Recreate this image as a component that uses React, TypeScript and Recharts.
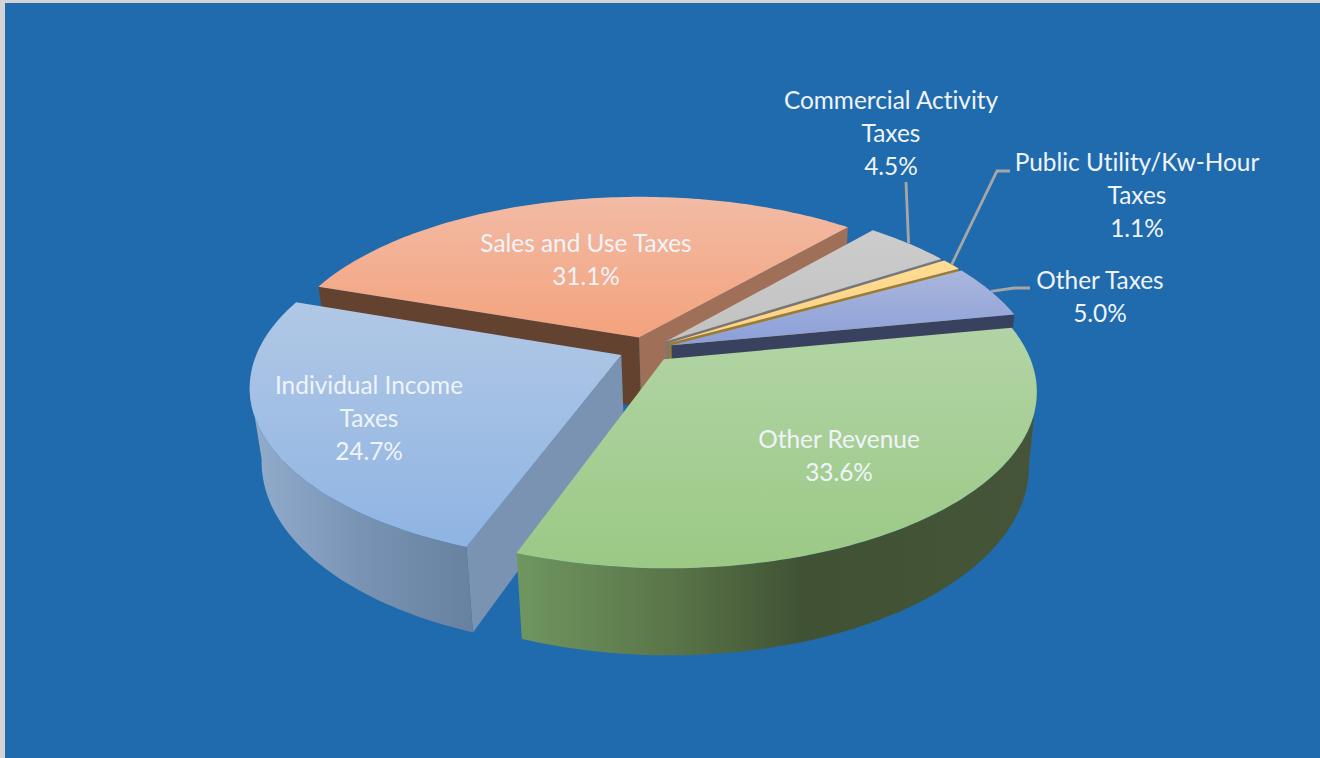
import React from 'react';
import { PieChart, Pie } from 'recharts';

const categories = ['Sales and Use Taxes', 'Commercial Activity Taxes', 'Public Utility/Kw-Hour Taxes', 'Other Taxes', 'Other Revenue', 'Individual Income Taxes'];
const shares = [31.1, 4.5, 1.1, 5.0, 33.6, 24.7];
const labelLines = [
  ['Sales and Use Taxes'],
  ['Commercial Activity', 'Taxes'],
  ['Public Utility/Kw-Hour', 'Taxes'],
  ['Other Taxes'],
  ['Other Revenue'],
  ['Individual Income', 'Taxes'],
];
const data = categories.map((name, i) => ({ name, value: shares[i], lines: labelLines[i], idx: i }));

// styles
const topColors = [
  ['#f2bba5', '#f4a27c'], ['#cccccc', '#c2c2c2'], ['#ffdb94', '#ffd37f'],
  ['#aab6dc', '#8b9fd8'], ['#b2d4a5', '#9bc985'], ['#b1c8e5', '#8fb4e3'],
];
const startWall = ['#63432f', '#777777', '#9c7c30', '#38425e', '#6b8f5c', '#7a93b3'];
const endWall = ['#a06f57', '#777777', '#9c7c30', '#38425e', '#6b8f5c', '#7590b0'];
const rimGradient: any[] = [null, null, null, null,
  [['0%', '#6f9660'], ['30%', '#5a7549'], ['55%', '#405233'], ['100%', '#465539']],
  [['0%', '#92adcc'], ['50%', '#7893b4'], ['100%', '#67819f']],
];
const labelCenter = [[586, 244], [891, 101], [1137, 163], [1100, 281], [839, 440], [369, 386]];
const leaderBend: any[] = [null, [[906, 182]], [[997, 171], [1010, 171]], [[1014, 288], [1030, 288]], null, null];

const CX = 646, CY = 349.5, RADIUS = 363;
const K = 0.174, TILT = 0.4653, DEPTH = 0.1956, SHRINK = 0.025, SHIFT = 2, EXPLODE = 0.075;
const rad = (d: number) => (d * Math.PI) / 180;

function projector(cx: number, cy: number, r: number, mid: number) {
  const ox = EXPLODE * Math.cos(rad(mid));
  const oy = -EXPLODE * Math.sin(rad(mid));
  return (unit: number, deg: number, z: number) => {
    const X = unit * Math.cos(rad(deg)) + ox;
    const Y = -unit * Math.sin(rad(deg)) + oy;
    const d = 1 - K * Y;
    return [cx + z * SHIFT + (r * X * (1 - SHRINK * z)) / d, cy + (r * TILT * Y) / d + (z * r * DEPTH) / d];
  };
}
const toPath = (pts: number[][]) => 'M' + pts.map((p) => p[0].toFixed(2) + ' ' + p[1].toFixed(2)).join('L') + 'Z';

function SliceShape(props: any) {
  const { cx, cy, outerRadius, startAngle, endAngle, midAngle, payload } = props;
  const idx = payload?.idx ?? props.idx;
  const hi = Math.max(startAngle, endAngle), lo = Math.min(startAngle, endAngle);
  const mid = midAngle ?? (hi + lo) / 2;
  const P = projector(cx, cy, outerRadius, mid);
  const apex = P(0, 0, 0), apexB = P(0, 0, 1);
  const arc: number[][] = [];
  const steps = Math.max(4, Math.ceil(hi - lo));
  for (let i = 0; i <= steps; i++) arc.push(P(1, hi - ((hi - lo) * i) / steps, 0));
  const M = P(0.7, mid, 0);

  const wallVisible = (deg: number) => {
    const R = P(1, deg, 0);
    const dx = R[0] - apex[0], dy = R[1] - apex[1];
    return M[1] - apex[1] < (dy / dx) * (M[0] - apex[0]);
  };
  const wall = (deg: number) => toPath([apex, P(1, deg, 0), P(1, deg, 1), apexB]);

  // the outer wall faces the viewer only between the two silhouette angles
  const s = -(Math.asin(K) * 180) / Math.PI;
  const vis = [-180 - s, s];
  let rimPath = '';
  for (const shift of [0, -360]) {
    const a0 = Math.max(lo + shift, vis[0]);
    const a1 = Math.min(hi + shift, vis[1]);
    if (a1 > a0) {
      const top: number[][] = [], bot: number[][] = [];
      for (let d = a1; d >= a0; d -= 1) {
        top.push(P(1, d, 0));
        bot.unshift(P(1, d, 1));
      }
      top.push(P(1, a0, 0));
      bot.unshift(P(1, a0, 1));
      rimPath = toPath([...top, ...bot]);
      break;
    }
  }
  const rimStops = rimGradient[idx];
  return (
    <g>
      <defs>
        <linearGradient id={'top' + idx} x1="0" y1="0" x2="0" y2="1">
          <stop offset="0%" stopColor={topColors[idx][0]} />
          <stop offset="100%" stopColor={topColors[idx][1]} />
        </linearGradient>
        {rimStops && (
          <linearGradient id={'rim' + idx} x1="0" y1="0" x2="1" y2="0">
            {rimStops.map((st: any) => (
              <stop key={st[0]} offset={st[0]} stopColor={st[1]} />
            ))}
          </linearGradient>
        )}
      </defs>
      {wallVisible(hi) && <path d={wall(hi)} fill={startWall[idx]} />}
      {wallVisible(lo) && <path d={wall(lo)} fill={endWall[idx]} />}
      {rimPath && rimStops && <path d={rimPath} fill={`url(#rim${idx})`} />}
      <path d={toPath([apex, ...arc])} fill={`url(#top${idx})`} />
    </g>
  );
}

function SliceLabel(props: any) {
  const { cx, cy, outerRadius, midAngle, payload, value } = props;
  const idx = payload?.idx ?? props.idx;
  const [x, y] = labelCenter[idx];
  const rows = [...data[idx].lines, (value ?? data[idx].value).toFixed(1) + '%'];
  const bend = leaderBend[idx];
  let leader = null;
  if (bend) {
    const rim = projector(cx, cy, outerRadius, midAngle)(1, midAngle, 0);
    leader = <polyline points={[rim, ...bend].map((p: number[]) => p.join(',')).join(' ')} fill="none" stroke="#a6a6a6" strokeWidth={2.8} />;
  }
  return (
    <g>
      {leader}
      <text x={x} y={y} textAnchor="middle" fill="#f0f4fa" fontFamily="Lato, 'Open Sans', sans-serif" fontSize={24.4} style={{ pointerEvents: 'none', fontVariantLigatures: 'none' }}>
        {rows.map((t, i) => (
          <tspan key={i} x={x} y={y + 8 + i * 33}>{t}</tspan>
        ))}
      </text>
    </g>
  );
}

const isFront = (p: any) => (p.payload?.name ?? p.name) === 'Other Revenue';

export default function App() {
  return (
    <div style={{ position: 'absolute', left: 0, top: 0, width: 1320, height: 758, background: '#206bad', overflow: 'hidden' }}>
      <div style={{ position: 'absolute', left: 0, top: 0, width: 1320, height: 3, background: '#d4d4d4' }} />
      <div style={{ position: 'absolute', left: 0, top: 0, width: 5, height: 758, background: '#d4d4d4' }} />
      <div style={{ position: 'absolute', left: 0, top: 0 }}>
        <PieChart width={1320} height={758} margin={{ top: 0, right: 0, bottom: 0, left: 0 }}>
          <Pie
            data={data}
            dataKey="value"
            nameKey="name"
            cx={CX}
            cy={CY}
            outerRadius={RADIUS}
            startAngle={161}
            endAngle={-199}
            isAnimationActive={false}
            label={false}
            labelLine={false}
            shape={(p: any) => (isFront(p) ? <g /> : <SliceShape {...p} />)}
          />
          <Pie
            data={data}
            dataKey="value"
            nameKey="name"
            cx={CX}
            cy={CY}
            outerRadius={RADIUS}
            startAngle={161}
            endAngle={-199}
            isAnimationActive={false}
            label={(p: any) => <SliceLabel {...p} />}
            labelLine={false}
            shape={(p: any) => (isFront(p) ? <SliceShape {...p} /> : <g />)}
          />
        </PieChart>
      </div>
    </div>
  );
}
